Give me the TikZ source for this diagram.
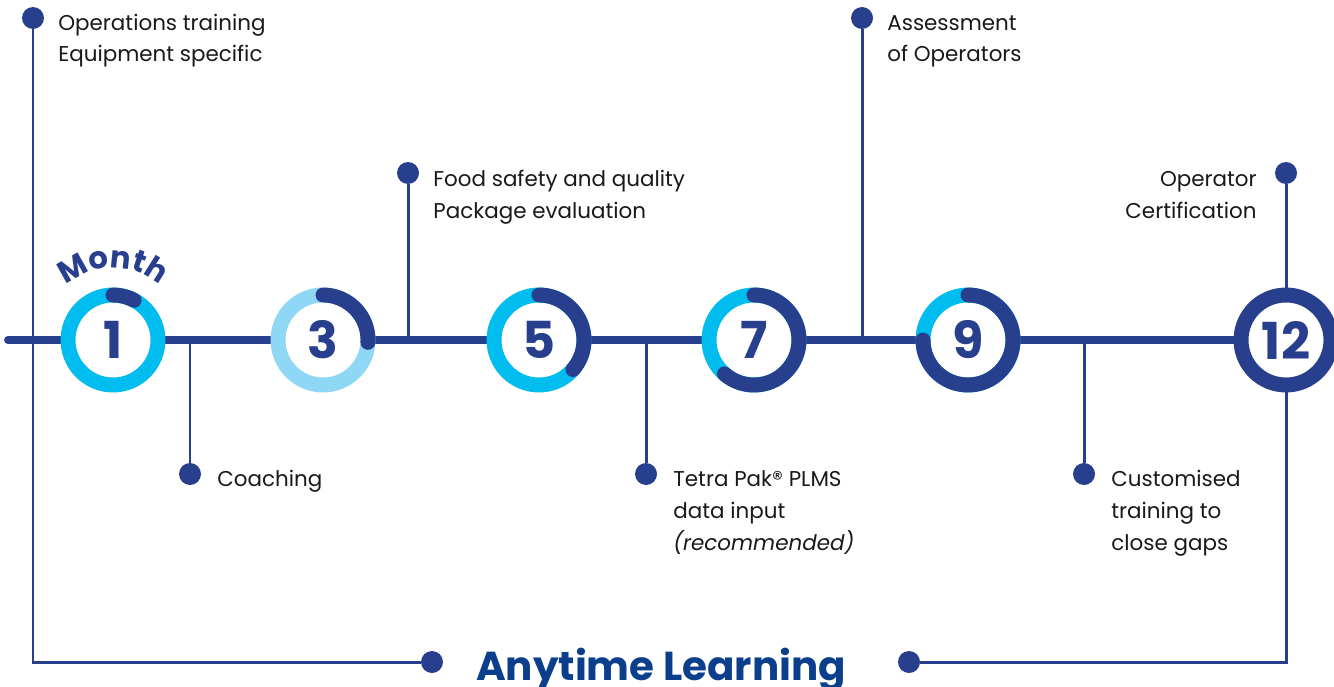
\documentclass[tikz,border=0pt]{standalone}
\usepackage{fontspec}
\setmainfont{Poppins}
\usetikzlibrary{decorations.text}

\definecolor{navy}{HTML}{283F8E}
\definecolor{deepblue}{HTML}{0B3F8C}
\definecolor{sky}{HTML}{00BCEF}
\definecolor{pale}{HTML}{8ED8F6}

\tikzset{
  ring/.style={shape=circle, draw=#1, line width=8.5pt, fill=white,
    minimum size=1.8cm, inner sep=0pt, text=navy,
    font=\bfseries\fontsize{29}{29}\selectfont},
  dot/.style={shape=circle, fill=navy, minimum size=0.44cm, inner sep=0pt},
  stem/.style={navy, line width=1.7pt},
  note/.style={align=left, inner sep=0pt, text=black!90,
    font=\fontsize{12.2}{18.2}\selectfont},
}

\begin{document}
\begin{tikzpicture}[x=0.02cm, y=0.02cm]
  \useasboundingbox (0,0) rectangle (1334,-686);

  % timeline
  \coordinate (S) at (8,-340);
  \coordinate (E) at (1334,-340);
  \draw[navy, line width=4.5pt, line cap=round] (S) -- (E);

  % stems from the timeline
  \foreach \i/\x/\y in {2/190/-474, 3/408/-173, 4/646/-474, 5/862/-18, 6/1084/-474} {
    \coordinate (J\i) at (\x,-340);
    \node[dot] (D\i) at (\x,\y) {};
    \draw[stem] (J\i) -- (D\i);
  }

  % months
  \foreach \n/\x/\c in {1/113/sky, 3/323/pale, 5/539/sky, 7/754/sky, 9/968/sky, 12/1286/navy}
    \node[ring=\c] (M\n) at (\x,-340) {\n};

  \foreach \n/\e in {1/62, 3/-3, 5/-41, 7/-131, 9/-180}
    \draw[navy, line width=8.5pt, line cap=round] (M\n.center) ++(90:45)
      arc[start angle=90, end angle=\e, radius=45];

  \path[decorate, decoration={text along path, text align=center, text color=navy,
      text={|\bfseries\fontsize{17.5}{17.5}\selectfont|Month}}]
    (M1.center) ++(140:72) arc[start angle=140, end angle=40, radius=72];

  % anytime learning
  \node[dot] (D1) at (33,-18) {};
  \node[dot] (A1) at (432,-662) {};
  \draw[stem] (D1) |- (A1);

  \node[dot] (D7) at (1286,-173) {};
  \node[dot] (A2) at (909,-662) {};
  \draw[stem] (D7) -- (M12);
  \draw[stem] (M12) |- (A2);

  \node[font=\bfseries\fontsize{23}{23}\selectfont, text=deepblue, anchor=base] (L)
    at (661,-680) {Anytime Learning};

  % texts
  \node[note, anchor=base west] (T1) at (58,-62) {Operations training\\Equipment specific};
  \node[note, anchor=base west] (T2) at (217,-486) {Coaching};
  \node[note, anchor=base west] (T3) at (433,-218) {Food safety and quality\\Package evaluation};
  \node[note, anchor=base west] (T4) at (673,-550) {Tetra Pak® PLMS\\data input\\\textit{(recommended)}};
  \node[note, anchor=base west] (T5) at (887,-62) {Assessment\\of Operators};
  \node[note, anchor=base west] (T6) at (1111,-550) {Customised\\training to\\close gaps};
  \node[note, anchor=base east, align=right] (T7) at (1257,-218) {Operator\\Certification};
\end{tikzpicture}
\end{document}
